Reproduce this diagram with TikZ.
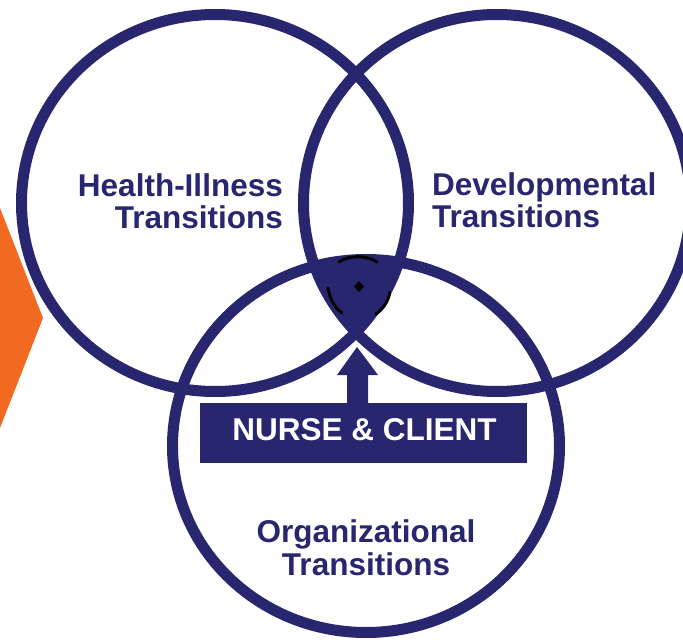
\documentclass[tikz,border=0pt]{standalone}
\usepackage{fontspec}
\setmainfont{Liberation Sans}
\definecolor{navy}{RGB}{39,38,110}
\definecolor{orng}{RGB}{242,106,33}
\begin{document}
\begin{tikzpicture}[x=1pt,y=-1pt,
  ring/.style={draw=navy,line width=11pt},
  lbl/.style={text=navy,font=\bfseries\fontsize{31.5}{33}\selectfont,inner sep=0pt},
  darkstroke/.style={draw=black,line width=3pt,line cap=round}]
\useasboundingbox (0,0) rectangle (683,642);
% orange chevron
\fill[orng] (0,208) -- (43,318) -- (0,428) -- cycle;
% centres
\coordinate (cA) at (215,203);
\coordinate (cB) at (497,203);
\coordinate (cC) at (366,446);
% triple intersection
\begin{scope}
  \clip (cA) ellipse [x radius=193.5pt, y radius=188.5pt];
  \clip (cB) ellipse [x radius=193.5pt, y radius=188.5pt];
  \fill[navy] (cC) ellipse [x radius=193.5pt, y radius=186.5pt];
\end{scope}
% rings
\draw[ring] (cA) ellipse [x radius=193.5pt, y radius=188.5pt];
\draw[ring] (cB) ellipse [x radius=193.5pt, y radius=188.5pt];
\draw[ring] (cC) ellipse [x radius=193.5pt, y radius=186.5pt];
% dark marks inside
\draw[darkstroke] (339,262) .. controls (349,255) and (367,255) .. (377,262);
\fill[black] (359,281) -- (364,286.5) -- (359,292) -- (354,286.5) -- cycle;
\draw[darkstroke] (328,288) .. controls (330,300) and (335,308) .. (342,313);
\draw[darkstroke] (390,292) .. controls (388,302) and (383,309) .. (376,314);
% labels
\node[lbl,anchor=base east] (h1) at (283,196) {Health-Illness};
\node[lbl,anchor=base east] (h2) at (283,228) {Transitions};
\node[lbl,anchor=base west] (d1) at (432,195) {Developmental};
\node[lbl,anchor=base west] (d2) at (432,227) {Transitions};
\node[lbl,anchor=base] (o1) at (366,542) {Organizational};
\node[lbl,anchor=base] (o2) at (366,575) {Transitions};
% nurse & client box
\node[fill=navy,minimum width=327pt,minimum height=60pt,inner sep=0pt] (box) at (363.5,433) {};
\node[lbl,text=white,anchor=base] (nc) at (364.5,440) {NURSE \& CLIENT};
% block arrow
\fill[navy] (357,347) -- (378,375) -- (368,375) -- (368,404) -- (347,404) -- (347,375) -- (337,375) -- cycle;
\end{tikzpicture}
\end{document}
